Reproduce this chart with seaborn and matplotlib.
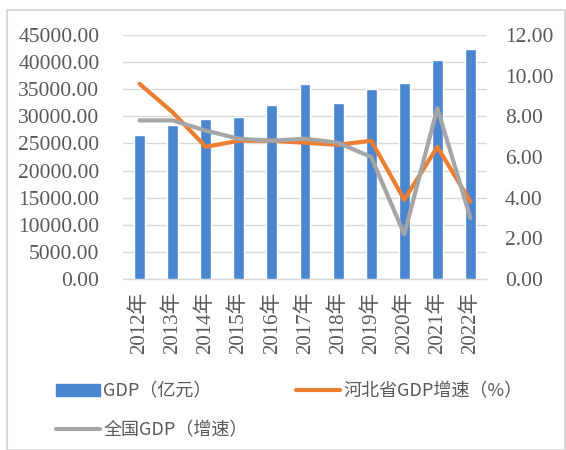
import numpy as np
import pandas as pd
import matplotlib
matplotlib.use("Agg")
import matplotlib.pyplot as plt
import seaborn as sns
from matplotlib.patches import Rectangle, Patch
from matplotlib.lines import Line2D

years = ["2012年", "2013年", "2014年", "2015年", "2016年", "2017年",
         "2018年", "2019年", "2020年", "2021年", "2022年"]
gdp = [26575, 28443, 29421, 29806, 32070, 35964, 32495, 35104, 36207, 40391, 42370]
hebei_growth = [9.6, 8.2, 6.5, 6.8, 6.8, 6.7, 6.6, 6.8, 3.9, 6.5, 3.8]
china_growth = [7.8, 7.8, 7.3, 6.9, 6.8, 6.9, 6.7, 6.0, 2.2, 8.4, 3.0]
left_ticks = [0, 5000, 10000, 15000, 20000, 25000, 30000, 35000, 40000, 45000]
right_ticks = [0, 2, 4, 6, 8, 10, 12]

sns.set_theme(style="white")
plt.rcParams['font.family'] = ['Noto Sans CJK SC', 'DejaVu Sans']

BLUE = "#4a86cf"
ORANGE = "#ed7d31"
GRAY = "#a5a5a5"
TXT = "#595959"
GRID = "#d9d9d9"
serif = ['Liberation Serif', 'Noto Sans CJK SC']

fig = plt.figure(figsize=(5.66, 4.5), dpi=100)
ax = fig.add_axes([123/566, 1-279/450, (487-123)/566, (279-35)/450])

df = pd.DataFrame({"year": years, "gdp": gdp, "pos": np.arange(len(years)),
                   "hebei": hebei_growth, "china": china_growth})

sns.barplot(data=df, x="year", y="gdp", color=BLUE, width=0.33, ax=ax,
            saturation=1, zorder=3)
ax.set_ylim(0, 45000)
ax.set_yticks(left_ticks)
ax.set_yticklabels([f"{v:.2f}" for v in left_ticks], family=serif, fontsize=15.5, color=TXT)
ax.set_xlim(-0.5, len(years) - 0.5)
ax.set_xticks(np.arange(len(years)))
ax.set_xticklabels(years, rotation=90, family=serif, fontsize=15, color=TXT)
ax.set_xlabel("")
ax.set_ylabel("")
ax.grid(axis="y", color=GRID, linewidth=1, zorder=0)
ax.set_axisbelow(True)
for s in ["left", "right", "top"]:
    ax.spines[s].set_visible(False)
ax.spines["bottom"].set_color(GRID)
ax.spines["bottom"].set_linewidth(1)
ax.tick_params(axis="x", length=0, pad=9)
ax.tick_params(axis="y", length=0, pad=17)
# category boundary ticks
ax.set_xticks(np.arange(-0.5, len(years), 1.0), minor=True)
ax.tick_params(axis="x", which="minor", length=5, color=GRID, width=1, direction="out")

ax2 = ax.twinx()
sns.lineplot(data=df, x="pos", y="hebei", color=ORANGE, linewidth=3, ax=ax2, zorder=4)
sns.lineplot(data=df, x="pos", y="china", color=GRAY, linewidth=3, ax=ax2, zorder=5)
ax2.set_ylim(0, 12)
ax2.set_yticks(right_ticks)
ax2.set_yticklabels([f"{v:.2f}" for v in right_ticks], family=serif, fontsize=15.5, color=TXT)
ax2.set_ylabel("")
ax2.set_xlabel("")
ax2.set_xlim(-0.5, len(years) - 0.5)
for s in ["left", "right", "top", "bottom"]:
    ax2.spines[s].set_visible(False)
ax2.tick_params(axis="y", length=0, pad=13)
ax2.grid(False)

handles = [Patch(facecolor=BLUE, edgecolor=BLUE),
           Line2D([0], [0], color=GRAY, linewidth=3),
           Line2D([0], [0], color=ORANGE, linewidth=3)]
labels = ["GDP（亿元）", "全国GDP（增速）", "河北省GDP增速（%）"]
leg = fig.legend(handles, labels, ncol=2, loc="upper left",
                 bbox_to_anchor=(40/566, 1-366/450), frameon=False,
                 fontsize=13, handlelength=2.4, handleheight=0.6,
                 handletextpad=0.2, columnspacing=2.7, labelspacing=1.15)
for t in leg.get_texts():
    t.set_color(TXT)

fig.patches.append(Rectangle((7/566, 0.0), (565-7)/566, 1-10/450, transform=fig.transFigure,
                             fill=False, edgecolor=GRID, linewidth=1.5))

fig.savefig("out.png", dpi=100)
